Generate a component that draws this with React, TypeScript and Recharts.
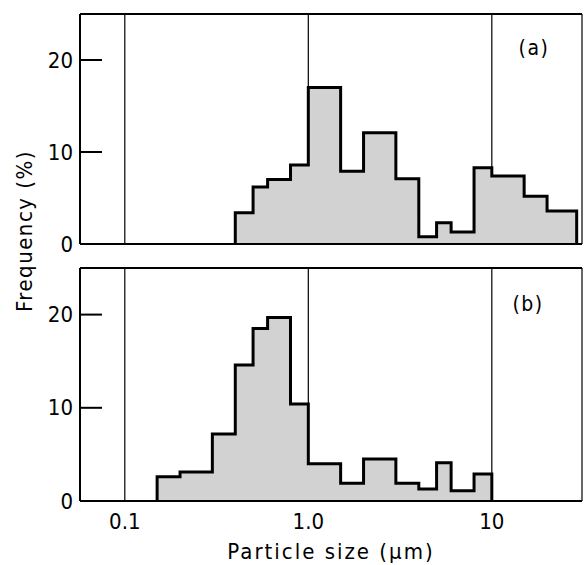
import { ComposedChart, Area, XAxis, YAxis, CartesianGrid } from 'recharts'

// bin edges (um) and frequency (%) for each panel
const edgesA = [0.4, 0.5, 0.6, 0.8, 1, 1.5, 2, 3, 4, 5, 6, 8, 10, 15, 20, 29]
const freqA = [3.4, 6.2, 7.0, 8.6, 17.0, 7.9, 12.1, 7.1, 0.8, 2.3, 1.3, 8.3, 7.4, 5.2, 3.6]

const edgesB = [0.15, 0.2, 0.3, 0.4, 0.5, 0.6, 0.8, 1, 1.5, 2, 3, 4, 5, 6, 8, 10]
const freqB = [2.6, 3.1, 7.2, 14.6, 18.5, 19.7, 10.4, 4.0, 1.9, 4.5, 1.9, 1.3, 4.1, 1.1, 2.9]

const xTicks = [0.1, 1, 10]
const xTickLabels = ['0.1', '1.0', '10']
const yTicks = [0, 10, 20]

const xDomain = [0.057, 31]
const yDomain = [0, 25]

const font = "'DejaVu Sans Condensed', 'DejaVu Sans', sans-serif"

function toSteps(edges: number[], freq: number[]) {
  const last = edges[edges.length - 1]
  const pts = [{ size: edges[0], freq: 0 }]
  freq.forEach((f, i) => pts.push({ size: edges[i], freq: f }))
  pts.push({ size: last, freq: freq[freq.length - 1] })
  pts.push({ size: last, freq: 0 })
  return pts
}

const YTick = (props: any) => {
  const { x, y, payload } = props
  return (
    <g>
      {payload.value !== 0 && (
        <line x1={x + 7} x2={x + 29} y1={y} y2={y} stroke="#000" strokeWidth={2} />
      )}
      <text x={x} y={y} textAnchor="end" dominantBaseline="central" fontFamily={font} fontSize={22} fill="#000">
        {payload.value}
      </text>
    </g>
  )
}

const NoTick = () => <g />

function Panel({ data, height, margin, showX }: { data: any[]; height: number; margin: any; showX: boolean }) {
  return (
    <ComposedChart width={584} height={height} data={data} margin={margin}>
      <CartesianGrid horizontal={false} stroke="#000" strokeWidth={1.2} />
      <XAxis
        dataKey="size"
        type="number"
        scale="log"
        domain={xDomain}
        allowDataOverflow
        ticks={xTicks}
        tickFormatter={(v: number) => xTickLabels[xTicks.indexOf(v)] ?? String(v)}
        tick={showX ? { fontFamily: font, fontSize: 22, fill: '#000' } : NoTick}
        tickLine={false}
        tickSize={0}
        tickMargin={12}
        height={showX ? 64 : 1}
        axisLine={{ stroke: '#000', strokeWidth: 2 }}
      />
      <XAxis xAxisId="top" orientation="top" type="number" domain={xDomain} height={1} tick={NoTick} tickLine={false} axisLine={{ stroke: '#000', strokeWidth: 2 }} />
      <YAxis
        type="number"
        domain={yDomain}
        ticks={yTicks}
        width={80}
        tick={YTick}
        tickLine={false}
        tickSize={0}
        tickMargin={7}
        axisLine={{ stroke: '#000', strokeWidth: 2 }}
      />
      <YAxis yAxisId="right" orientation="right" domain={yDomain} width={0} tick={false} tickLine={false} axisLine={{ stroke: '#000', strokeWidth: 2 }} />
      <Area
        type="stepAfter"
        dataKey="freq"
        stroke="#000"
        strokeWidth={3}
        fill="#d2d2d2"
        fillOpacity={1}
        dot={false}
        activeDot={false}
        isAnimationActive={false}
      />
    </ComposedChart>
  )
}

export default function App() {
  const dataA = toSteps(edgesA, freqA)
  const dataB = toSteps(edgesB, freqB)
  return (
    <div style={{ position: 'absolute', left: 0, top: 0, width: 584, height: 565, background: '#fff' }}>
      <div style={{ position: 'absolute', left: 0, top: 0 }}>
        <Panel data={dataA} height={258} margin={{ top: 13, right: 2, bottom: 13, left: 0 }} showX={false} />
      </div>
      <div style={{ position: 'absolute', left: 0, top: 255 }}>
        <Panel data={dataB} height={310} margin={{ top: 12, right: 2, bottom: 0, left: 0 }} showX={true} />
      </div>
      <svg width={584} height={565} style={{ position: 'absolute', left: 0, top: 0, pointerEvents: 'none' }}>
        <text x={534} y={47.5} textAnchor="middle" dominantBaseline="central" fontFamily={font} fontSize={21} letterSpacing={1.5}>(a)</text>
        <text x={528} y={303.5} textAnchor="middle" dominantBaseline="central" fontFamily={font} fontSize={21} letterSpacing={1.5}>(b)</text>
        <text x={331} y={559} textAnchor="middle" fontFamily={font} fontSize={22} letterSpacing={2}>Particle size (μm)</text>
        <text x={32} y={231} textAnchor="middle" fontFamily={font} fontSize={22} letterSpacing={1.5} transform="rotate(-90, 32, 231)">Frequency (%)</text>
      </svg>
    </div>
  )
}
